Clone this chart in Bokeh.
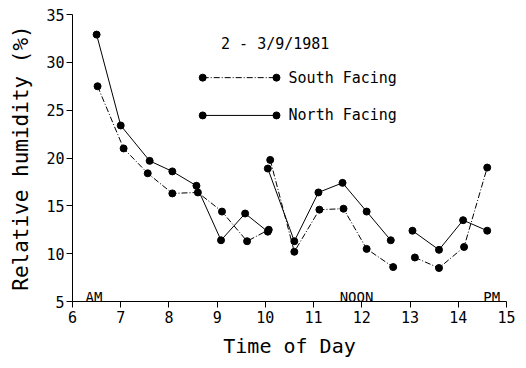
import numpy as np
from bokeh.plotting import figure
from bokeh.models import Range1d, FixedTicker
from bokeh.core.properties import value
from bokeh.embed import file_html
from bokeh.resources import INLINE

nan = np.nan
# North Facing (solid line)
north_x = [6.5, 7.0, 7.6, 8.07, 8.57, 9.08, 9.58, 10.05, nan, 10.05, 10.6, 11.1, 11.6, 12.1, 12.6, nan, 13.05, 13.6, 14.1, 14.6]
north_y = [32.9, 23.4, 19.7, 18.6, 17.1, 11.4, 14.2, 12.3, nan, 18.9, 11.3, 16.4, 17.4, 14.4, 11.4, nan, 12.4, 10.4, 13.5, 12.4]
# South Facing (dash-dot line)
south_x = [6.52, 7.06, 7.56, 8.07, 8.6, 9.1, 9.62, 10.07, nan, 10.1, 10.6, 11.12, 11.62, 12.1, 12.65, nan, 13.1, 13.6, 14.12, 14.6]
south_y = [27.5, 21.0, 18.4, 16.3, 16.4, 14.4, 11.3, 12.5, nan, 19.8, 10.2, 14.6, 14.7, 10.5, 8.6, nan, 9.6, 8.5, 10.7, 19.0]

x_ticks = [6, 7, 8, 9, 10, 11, 12, 13, 14, 15]
y_ticks = [5, 10, 15, 20, 25, 30, 35]

period_labels = ["AM", "NOON", "PM"]
period_x = [6.27, 11.54, 14.52]
period_y = [5.5, 5.5, 5.5]

title_text = "2 - 3/9/1981"
legend_names = ["South Facing", "North Facing"]

FONT_S = "DejaVu Sans Mono"
FONT = value(FONT_S)

p = figure(frame_width=434, frame_height=287, output_backend="svg", toolbar_location=None,
           x_range=Range1d(6, 15), y_range=Range1d(5, 35),
           min_border_left=72, min_border_right=11, min_border_top=14, min_border_bottom=58)
p.outline_line_color = None
p.xgrid.visible = False
p.ygrid.visible = False
p.background_fill_color = "white"

for ax in (p.xaxis[0], p.yaxis[0]):
    ax.axis_line_color = "black"
    ax.axis_line_width = 1
    ax.major_tick_line_color = "black"
    ax.major_tick_out = 6
    ax.major_tick_in = 0
    ax.minor_tick_line_color = None
    ax.major_label_text_font = FONT_S
    ax.major_label_text_font_size = "15px"
    ax.major_label_text_color = "black"
    ax.axis_label_text_font = FONT_S
    ax.axis_label_text_font_style = "normal"
    ax.axis_label_text_color = "black"

p.xaxis.ticker = FixedTicker(ticks=x_ticks)
p.yaxis.ticker = FixedTicker(ticks=y_ticks)
p.xaxis.axis_label = "Time of Day"
p.yaxis.axis_label = "Relative humidity (%)"
p.xaxis.axis_label_text_font_size = "20px"
p.yaxis.axis_label_text_font_size = "21px"
p.xaxis.major_label_standoff = 3
p.yaxis.major_label_standoff = 2
p.xaxis.axis_label_standoff = 8
p.yaxis.axis_label_standoff = 10

# data
p.line(north_x, north_y, line_color="black", line_width=1)
p.scatter(north_x, north_y, size=7, color="black")
p.line(south_x, south_y, line_color="black", line_width=1, line_dash="6 2 1 2")
p.scatter(south_x, south_y, size=7, color="black")

# annotation texts
p.text(period_x, period_y, text=period_labels, text_font=FONT, text_font_size="14px",
       text_color="black", text_baseline="alphabetic", text_align="left")

# legend (drawn manually like the original)
leg_x = [8.7, 10.23]
leg_y_south = [28.4, 28.4]
leg_y_north = [24.45, 24.45]
p.line(leg_x, leg_y_south, line_color="black", line_width=1, line_dash="6 2 1 2")
p.scatter(leg_x, leg_y_south, size=7, color="black")
p.line(leg_x, leg_y_north, line_color="black", line_width=1)
p.scatter(leg_x, leg_y_north, size=7, color="black")
p.text([10.48, 10.48], [28.4, 24.45], text=legend_names, text_font=FONT, text_font_size="15px",
       text_color="black", text_baseline="middle", text_align="left")
p.text([9.08], [31.9], text=[title_text], text_font=FONT, text_font_size="15px",
       text_color="black", text_baseline="middle", text_align="left")

open("out.html", "w").write(file_html(p, INLINE))
